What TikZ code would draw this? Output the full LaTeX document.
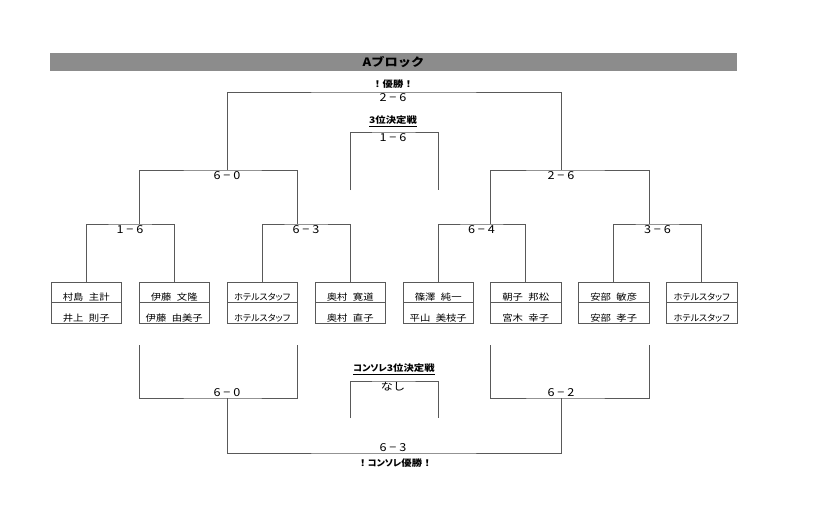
\documentclass[tikz,border=0pt]{standalone}
\usepackage{fontspec}
\setmainfont{Noto Sans CJK JP}[FakeStretch=1.15]
\newfontfamily\kanafont{Noto Sans CJK JP}[FakeStretch=1.0, RawFeature=+palt]
\usetikzlibrary{positioning}

\newcommand{\nmgap}{\hspace{.6em}}

\begin{document}
\begin{tikzpicture}[x=1pt, y=-1pt, line width=0.75pt,
    rule/.style={draw=black!65},
    namecell/.style={rule, minimum width=70.5pt, minimum height=20.5pt, inner sep=0pt, outer sep=0pt,
        text height=16pt, text depth=0pt, font=\fontsize{9}{10}\selectfont},
    staffcell/.style={namecell, font=\kanafont\fontsize{9}{10}\selectfont},
    score/.style={anchor=north, inner sep=1.2pt, font=\fontsize{11}{12}\selectfont},
    cscore/.style={anchor=south, inner sep=1.2pt, font=\fontsize{11}{12}\selectfont},
    title/.style={font=\bfseries\fontsize{9}{10}\selectfont, inner sep=0pt}]
    \useasboundingbox (0,0) rectangle (840,525);

    % Header
    \node[fill=black!45, minimum width=687pt, minimum height=18pt, inner sep=0pt,
          font=\bfseries\fontsize{11.5}{12}\selectfont] (head) at (393.5,62) {Aブロック};

    % Pairs: top cell and bottom cell
    \node[namecell] (p1a) at (86.25,292.5) {村島\nmgap 主計};
    \node[namecell, below=0pt of p1a] (p1b) {井上\nmgap 則子};
    \node[namecell] (p2a) at (174.25,292.5) {伊藤\nmgap 文隆};
    \node[namecell, below=0pt of p2a] (p2b) {伊藤\nmgap 由美子};
    \node[staffcell] (p3a) at (262.25,292.5) {ホテルスタッフ};
    \node[staffcell, below=0pt of p3a] (p3b) {ホテルスタッフ};
    \node[namecell] (p4a) at (350.25,292.5) {奥村\nmgap 寛道};
    \node[namecell, below=0pt of p4a] (p4b) {奥村\nmgap 直子};
    \node[namecell] (p5a) at (438.25,292.5) {篠澤\nmgap 純一};
    \node[namecell, below=0pt of p5a] (p5b) {平山\nmgap 美枝子};
    \node[namecell] (p6a) at (525.75,292.5) {朝子\nmgap 邦松};
    \node[namecell, below=0pt of p6a] (p6b) {宮木\nmgap 幸子};
    \node[namecell] (p7a) at (613.75,292.5) {安部\nmgap 敏彦};
    \node[namecell, below=0pt of p7a] (p7b) {安部\nmgap 孝子};
    \node[staffcell] (p8a) at (701.75,292.5) {ホテルスタッフ};
    \node[staffcell, below=0pt of p8a] (p8b) {ホテルスタッフ};

    % Round 1
    \node[score] (r1) at (130,224) {1 − 6};
    \node[score] (r2) at (306,224) {6 − 3};
    \node[score] (r3) at (481.5,224) {6 − 4};
    \node[score] (r4) at (657.5,224) {3 − 6};
    \draw[rule] (p1a.north) |- (r1.north) -| (p2a.north);
    \draw[rule] (p3a.north) |- (r2.north) -| (p4a.north);
    \draw[rule] (p5a.north) |- (r3.north) -| (p6a.north);
    \draw[rule] (p7a.north) |- (r4.north) -| (p8a.north);

    % Semi finals
    \node[score] (s1) at (227,170) {6 − 0};
    \node[score] (s2) at (561,170) {2 − 6};
    \draw[rule] (r1.north -| p2a.west) |- (s1.north) -| (r2.north -| p3a.east);
    \draw[rule] (r3.north -| p6a.west) |- (s2.north) -| (r4.north -| p7a.east);

    % Final
    \node[title] (win) at (393,84.5) {！優勝！};
    \node[score] (fin) at (393,92) {2 − 6};
    \draw[rule] (s1.north) |- (fin.north) -| (s2.north);

    % 3rd place
    \node[title] (thirdlbl) at (393,121) {\underline{3位決定戦}};
    \node[score] (third) at (393,132) {1 − 6};
    \coordinate (t3l) at (350.25,190);
    \coordinate (t3r) at (438.25,190);
    \draw[rule] (t3l) |- (third.north) -| (t3r);

    % Consolation
    \coordinate (c1l) at (139,345);
    \coordinate (c1r) at (297,345);
    \coordinate (c2l) at (490.5,345);
    \coordinate (c2r) at (649,345);
    \node[cscore] (c1) at (227,398) {6 − 0};
    \node[cscore] (c2) at (561,398) {6 − 2};
    \draw[rule] (c1l) |- (c1.south) -| (c1r);
    \draw[rule] (c2l) |- (c2.south) -| (c2r);

    \node[cscore] (cfin) at (393,453) {6 − 3};
    \node[title] (cwin) at (395,463.5) {！{\kanafont コンソレ}優勝！};
    \draw[rule] (c1.south) |- (cfin.south) -| (c2.south);

    % Consolation 3rd place
    \node[title] (cthirdlbl) at (394,369) {\underline{{\kanafont コンソレ}3位決定戦}};
    \node[anchor=north, inner sep=1pt, font=\fontsize{10.5}{12}\selectfont] (cthird) at (393,381) {なし};
    \coordinate (ct3l) at (350.25,418);
    \coordinate (ct3r) at (438.25,418);
    \draw[rule] (ct3l) |- (cthird.north) -| (ct3r);
\end{tikzpicture}
\end{document}
